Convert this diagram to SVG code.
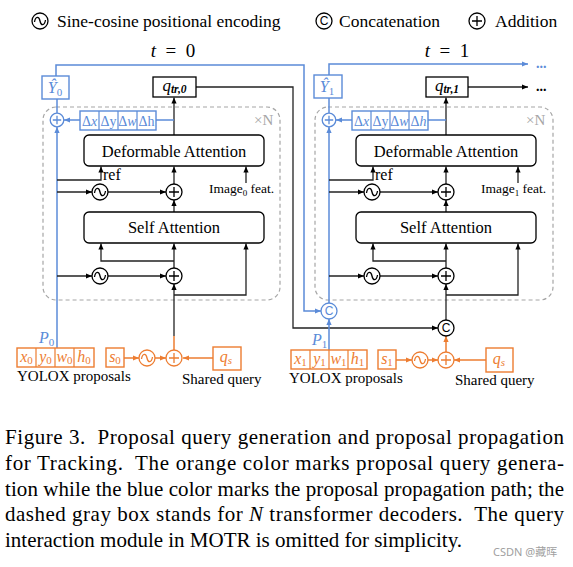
<svg xmlns="http://www.w3.org/2000/svg" xmlns:xlink="http://www.w3.org/1999/xlink" width="573" height="567" viewBox="0 0 573 567">
<style>
text{font-family:"Liberation Serif","Times New Roman",serif;fill:#000}
.bx{fill:#fff;stroke:#000;stroke-width:1.3}
.bb{fill:#fff;stroke:#5b8bd8;stroke-width:1.4}
.ob{fill:#fff;stroke:#ed7d31;stroke-width:1.4}
.dash{fill:none;stroke:#a6a6a6;stroke-width:1.2;stroke-dasharray:4 3}
.lk{fill:none;stroke:#222;stroke-width:1.3}
.lb{fill:none;stroke:#5b8bd8;stroke-width:1.5}
.lo{fill:none;stroke:#ed7d31;stroke-width:1.5}
.ak{marker-end:url(#mk)}
.ab{marker-end:url(#mb)}
.ao{marker-end:url(#mo)}
.lbl{font-size:16.5px}
.blu{fill:#5b8bd8}
.org{fill:#ed7d31}
.it{font-style:italic}
.sub{font-size:11px}
.dl{font-size:14px;fill:#5b8bd8;text-anchor:middle}
.pl{font-size:16px;fill:#ed7d31;text-anchor:middle}
.cap{font-size:21px}
</style>
<defs>
<marker id="mk" viewBox="0 0 6 6" refX="6" refY="3" markerWidth="6" markerHeight="6" markerUnits="userSpaceOnUse" orient="auto"><path d="M0,0.4L6,3L0,5.6z" fill="#000"/></marker>
<marker id="mb" viewBox="0 0 6 6" refX="6" refY="3" markerWidth="6" markerHeight="6" markerUnits="userSpaceOnUse" orient="auto"><path d="M0,0.4L6,3L0,5.6z" fill="#5b8bd8"/></marker>
<marker id="mo" viewBox="0 0 6 6" refX="6" refY="3" markerWidth="6" markerHeight="6" markerUnits="userSpaceOnUse" orient="auto"><path d="M0,0.4L6,3L0,5.6z" fill="#ed7d31"/></marker>
<g id="pe"><circle r="8" fill="#fff" stroke="currentColor" stroke-width="1.3"/><path d="M-5.5,1C-4.5,-5 -1,-5 0,0C1,5 4.5,5 5.5,-1" fill="none" stroke="currentColor" stroke-width="1.3"/></g>
<g id="pl"><circle r="8" fill="#fff" stroke="currentColor" stroke-width="1.3"/><path d="M-5,0H5M0,-5V5" fill="none" stroke="currentColor" stroke-width="1.3"/></g>
<g id="pls"><circle r="6.8" fill="#fff" stroke="currentColor" stroke-width="1.3"/><path d="M-4.2,0H4.2M0,-4.2V4.2" fill="none" stroke="currentColor" stroke-width="1.3"/></g>
<g id="cc"><circle r="8" fill="#fff" stroke="currentColor" stroke-width="1.3"/><text y="4.4" text-anchor="middle" style="font-family:'Liberation Sans',Arial,sans-serif;font-size:12px;fill:currentColor">C</text></g>
</defs>

<g id="legend">
<use href="#pe" x="40" y="21" color="#000"/>
<text x="57" y="27" font-size="17.5">Sine-cosine positional encoding</text>
<use href="#cc" x="324" y="21" color="#000"/>
<text x="339" y="27" font-size="17.5">Concatenation</text>
<use href="#pl" x="477" y="21" color="#000"/>
<text x="495" y="27" font-size="17.5">Addition</text>
</g>

<g id="time-labels">
<text x="173" y="57" font-size="19" text-anchor="middle" xml:space="preserve"><tspan class="it">t</tspan>  =  0</text>
<text x="447" y="57" font-size="19" text-anchor="middle" xml:space="preserve"><tspan class="it">t</tspan>  =  1</text>
</g>

<!-- decoder boxes -->
<g id="decoder0"><rect class="dash" x="43" y="107" width="237" height="193" rx="13"/><text x="254" y="125" font-size="15" style="fill:#a6a6a6">×N</text></g>
<g id="decoder1"><rect class="dash" x="315" y="107" width="238" height="193" rx="13"/><text x="526" y="125" font-size="15" style="fill:#a6a6a6">×N</text></g>

<g id="connectors">
<!-- left -->
<path class="lb ab" d="M56,76V65H304V311H321"/>
<path class="lk ak" d="M196,87H293V328H438"/>
<path class="lk ak" d="M174,135V97.5"/>
<path class="lb" d="M174,120H156"/>
<path class="lb ab" d="M80,120H64"/>
<path class="lb ab" d="M57,348V127"/>
<path class="lb" d="M57,113V99"/>
<path class="lk ak" d="M57,180H101V166.5"/>
<path class="lk ak" d="M57,192H92"/>
<path class="lk ak" d="M108,192H166"/>
<path class="lk ak" d="M174,184V166.5"/>
<path class="lk ak" d="M246,183V166.5"/>
<path class="lk ak" d="M174,212V200"/>
<path class="lk ak" d="M57,276H92"/>
<path class="lk ak" d="M108,276H166"/>
<path class="lk ak" d="M174,268V243.5"/>
<path class="lk ak" d="M174,261H101V243.5"/>
<path class="lk ak" d="M174,336V284"/>
<path class="lk ak" d="M174,295H246V243.5"/>
<path class="lo" d="M174,350V336"/>
<path class="lo ao" d="M124,358H139"/>
<path class="lo ao" d="M155,358H166"/>
<path class="lo ao" d="M213,358H183"/>
<!-- right -->
<path class="lb ab" d="M329,75V64H528"/>
<path class="lk ak" d="M468,87H528"/>
<path class="lk ak" d="M446,135V97.5"/>
<path class="lb" d="M446,120H428"/>
<path class="lb ab" d="M352,120H336"/>
<path class="lb ab" d="M329,303V127"/>
<path class="lb" d="M329,113V98"/>
<path class="lk ak" d="M329,180H373V166.5"/>
<path class="lk ak" d="M329,192H364"/>
<path class="lk ak" d="M380,192H438"/>
<path class="lk ak" d="M446,184V166.5"/>
<path class="lk ak" d="M518,183V166.5"/>
<path class="lk ak" d="M446,212V200"/>
<path class="lk ak" d="M329,276H364"/>
<path class="lk ak" d="M380,276H438"/>
<path class="lk ak" d="M446,268V243.5"/>
<path class="lk ak" d="M446,261H373V243.5"/>
<path class="lk ak" d="M446,320V284"/>
<path class="lk ak" d="M446,295H518V243.5"/>
<path class="lb ab" d="M329,350V319"/>
<path class="lo ao" d="M446,352V336"/>
<path class="lo ao" d="M396,360H412"/>
<path class="lo ao" d="M428,360H438"/>
<path class="lo ao" d="M486,360H454"/>
</g>

<g id="ellipsis">
<text x="536" y="68" font-size="14" font-weight="bold" style="fill:#5b8bd8">...</text>
<text x="536" y="91" font-size="14" font-weight="bold">...</text>
</g>

<!-- left panel nodes -->
<g id="yhat0"><rect class="bb" x="42" y="76" width="27" height="23"/><text x="55" y="93" font-size="16" text-anchor="middle" class="blu"><tspan class="it">Ŷ</tspan><tspan class="sub" dy="3">0</tspan></text></g>
<g id="qtr0"><rect class="bx" x="153" y="77" width="43" height="20"/><text x="174.5" y="91" font-size="17" text-anchor="middle"><tspan class="it">q</tspan><tspan font-size="11.5" font-weight="bold" font-style="italic" dy="2">tr,0</tspan></text></g>
<g id="delta0">
<rect class="bb" x="80" y="111" width="76" height="19"/>
<path d="M99,111V130M118,111V130M137,111V130" stroke="#5b8bd8" stroke-width="1.2"/>
<text class="dl" x="89.5" y="125.5">Δ<tspan class="it">x</tspan></text>
<text class="dl" x="108.5" y="125.5">Δy</text>
<text class="dl" x="127.5" y="125.5">Δ<tspan class="it">w</tspan></text>
<text class="dl" x="146.5" y="125.5">Δh</text>
</g>
<g id="addbox0"><use href="#pls" x="57" y="120" color="#5b8bd8"/></g>
<g id="deform0"><rect class="bx" x="84" y="135" width="180" height="31" rx="5"/><text class="lbl" x="174" y="156.5" text-anchor="middle">Deformable Attention</text></g>
<g id="self0"><rect class="bx" x="84" y="212" width="180" height="31" rx="5"/><text class="lbl" x="174" y="233" text-anchor="middle">Self Attention</text></g>
<g id="ref0"><text x="103" y="180" font-size="16">ref</text></g>
<g id="img0"><text x="209" y="193" font-size="13.5">Image<tspan font-size="9" dy="3">0</tspan><tspan dy="-3"> feat.</tspan></text></g>
<g id="pe0a"><use href="#pe" x="100" y="192" color="#000"/></g>
<g id="add0a"><use href="#pl" x="174" y="192" color="#000"/></g>
<g id="pe0b"><use href="#pe" x="100" y="276" color="#000"/></g>
<g id="add0b"><use href="#pl" x="174" y="276" color="#000"/></g>
<g id="props0">
<rect class="ob" x="17" y="348" width="77" height="19"/>
<path d="M36,348V367M55,348V367M74,348V367" stroke="#ed7d31" stroke-width="1.2"/>
<text class="pl" x="26.5" y="362"><tspan class="it">x</tspan><tspan class="sub" dy="2">0</tspan></text>
<text class="pl" x="45.5" y="362"><tspan class="it">y</tspan><tspan class="sub" dy="2">0</tspan></text>
<text class="pl" x="64.5" y="362"><tspan class="it">w</tspan><tspan class="sub" dy="2">0</tspan></text>
<text class="pl" x="84" y="362"><tspan class="it">h</tspan><tspan class="sub" dy="2">0</tspan></text>
<text x="17" y="381" font-size="15">YOLOX proposals</text>
<text x="39" y="343" font-size="16" class="blu"><tspan class="it">P</tspan><tspan class="sub" dy="3">0</tspan></text>
</g>
<g id="s0"><rect class="ob" x="106" y="348" width="18" height="19"/><text class="pl" x="115" y="362"><tspan class="it">s</tspan><tspan class="sub" dy="2">0</tspan></text></g>
<g id="pe0c"><use href="#pe" x="147" y="358" color="#ed7d31"/></g>
<g id="add0c"><use href="#pl" x="174" y="358" color="#ed7d31"/></g>
<g id="qs0"><rect class="ob" x="213" y="347" width="28" height="23"/><text class="pl" x="226" y="362" font-size="17"><tspan class="it">q</tspan><tspan class="sub it" dy="2">s</tspan></text><text x="182" y="384" font-size="15">Shared query</text></g>

<!-- right panel nodes -->
<g id="yhat1"><rect class="bb" x="314" y="75" width="28" height="23"/><text x="327" y="92" font-size="16" text-anchor="middle" class="blu"><tspan class="it">Ŷ</tspan><tspan class="sub" dy="3">1</tspan></text></g>
<g id="qtr1"><rect class="bx" x="426" y="77" width="42" height="20"/><text x="447" y="91" font-size="17" text-anchor="middle"><tspan class="it">q</tspan><tspan font-size="11.5" font-weight="bold" font-style="italic" dy="2">tr,1</tspan></text></g>
<g id="delta1">
<rect class="bb" x="352" y="111" width="76" height="19"/>
<path d="M371,111V130M390,111V130M409,111V130" stroke="#5b8bd8" stroke-width="1.2"/>
<text class="dl" x="361.5" y="125.5">Δ<tspan class="it">x</tspan></text>
<text class="dl" x="380.5" y="125.5">Δy</text>
<text class="dl" x="399.5" y="125.5">Δ<tspan class="it">w</tspan></text>
<text class="dl" x="418.5" y="125.5">Δ<tspan class="it">h</tspan></text>
</g>
<g id="addbox1"><use href="#pls" x="329" y="120" color="#5b8bd8"/></g>
<g id="deform1"><rect class="bx" x="356" y="135" width="180" height="31" rx="5"/><text class="lbl" x="446" y="156.5" text-anchor="middle">Deformable Attention</text></g>
<g id="self1"><rect class="bx" x="356" y="212" width="180" height="31" rx="5"/><text class="lbl" x="446" y="233" text-anchor="middle">Self Attention</text></g>
<g id="ref1"><text x="375" y="180" font-size="16">ref</text></g>
<g id="img1"><text x="481" y="193" font-size="13.5">Image<tspan font-size="9" dy="3">1</tspan><tspan dy="-3"> feat.</tspan></text></g>
<g id="pe1a"><use href="#pe" x="372" y="192" color="#000"/></g>
<g id="add1a"><use href="#pl" x="446" y="192" color="#000"/></g>
<g id="pe1b"><use href="#pe" x="372" y="276" color="#000"/></g>
<g id="add1b"><use href="#pl" x="446" y="276" color="#000"/></g>
<g id="concat-blue"><use href="#cc" x="329" y="311" color="#5b8bd8"/></g>
<g id="concat-black"><use href="#cc" x="446" y="328" color="#000"/></g>
<g id="props1">
<rect class="ob" x="291" y="350" width="76" height="19"/>
<path d="M310,350V369M329,350V369M348,350V369" stroke="#ed7d31" stroke-width="1.2"/>
<text class="pl" x="300.5" y="364"><tspan class="it">x</tspan><tspan class="sub" dy="2">1</tspan></text>
<text class="pl" x="319.5" y="364"><tspan class="it">y</tspan><tspan class="sub" dy="2">1</tspan></text>
<text class="pl" x="338.5" y="364"><tspan class="it">w</tspan><tspan class="sub" dy="2">1</tspan></text>
<text class="pl" x="357.5" y="364"><tspan class="it">h</tspan><tspan class="sub" dy="2">1</tspan></text>
<text x="289" y="383" font-size="15">YOLOX proposals</text>
<text x="312" y="345" font-size="16" class="blu"><tspan class="it">P</tspan><tspan class="sub" dy="3">1</tspan></text>
</g>
<g id="s1"><rect class="ob" x="378" y="350" width="18" height="19"/><text class="pl" x="387" y="364"><tspan class="it">s</tspan><tspan class="sub" dy="2">1</tspan></text></g>
<g id="pe1c"><use href="#pe" x="420" y="360" color="#ed7d31"/></g>
<g id="add1c"><use href="#pl" x="446" y="360" color="#ed7d31"/></g>
<g id="qs1"><rect class="ob" x="486" y="348" width="27" height="24"/><text class="pl" x="499" y="364" font-size="17"><tspan class="it">q</tspan><tspan class="sub it" dy="2">s</tspan></text><text x="455" y="385" font-size="15">Shared query</text></g>

<g id="caption">
<text class="cap" x="5" y="444" textLength="559" lengthAdjust="spacing" xml:space="preserve">Figure 3.  Proposal query generation and proposal propagation</text>
<text class="cap" x="5" y="470" textLength="559" lengthAdjust="spacing" xml:space="preserve">for Tracking.  The orange color marks proposal query genera-</text>
<text class="cap" x="5" y="496" textLength="559" lengthAdjust="spacing">tion while the blue color marks the proposal propagation path; the</text>
<text class="cap" x="5" y="521" textLength="559" lengthAdjust="spacing" xml:space="preserve">dashed gray box stands for <tspan class="it">N</tspan> transformer decoders.  The query</text>
<text class="cap" x="5" y="547">interaction module in MOTR is omitted for simplicity.</text>
<text x="493" y="556" font-size="11" style="fill:#a0a0a0;font-family:'Noto Sans','Noto Sans CJK SC',sans-serif">CSDN @藏晖</text>
</g>
</svg>
